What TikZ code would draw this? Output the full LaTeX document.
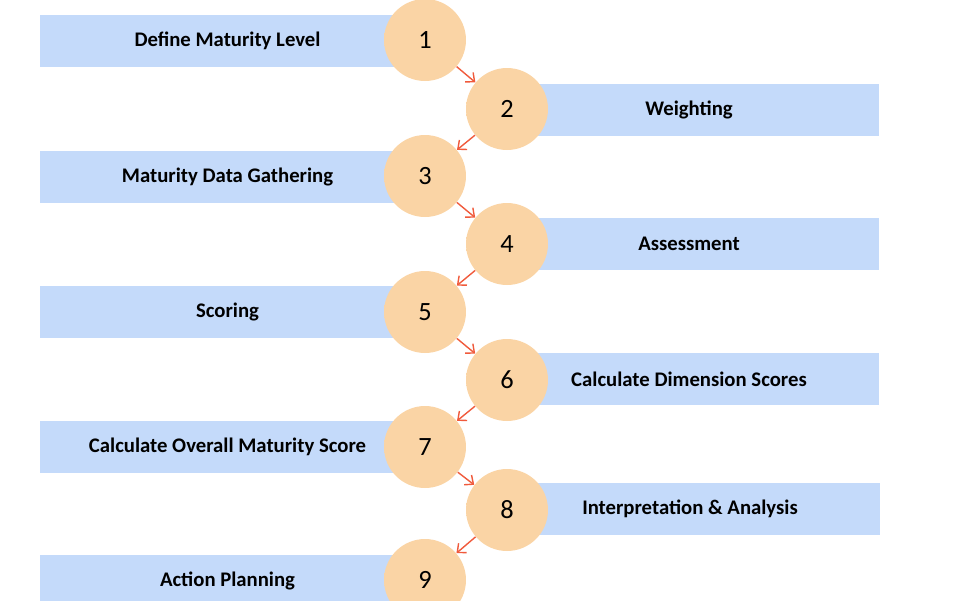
\documentclass[tikz,border=0pt]{standalone}
\usepackage{fontspec}
\setmainfont{Carlito}
\usetikzlibrary{arrows.meta}
\definecolor{barblue}{RGB}{196,218,250}
\definecolor{peach}{RGB}{250,212,165}
\definecolor{peachdark}{RGB}{160,120,80}
\definecolor{arrowred}{RGB}{240,90,60}
\pgfdeclareradialshading{stepshade}{\pgfpoint{0bp}{-6bp}}{color(0bp)=(peach); color(28bp)=(peach); color(38bp)=(peach!85!peachdark); color(46bp)=(peachdark); color(60bp)=(peachdark)}
\begin{document}
\begin{tikzpicture}
  [x=0.02cm,y=-0.02cm,
   stepbar/.style={fill=barblue,inner sep=0pt,minimum width=7.2cm,minimum height=1.04cm,font=\bfseries\fontsize{11.8}{13}\selectfont},
   stepball/.style={circle,inner sep=0pt,minimum size=1.64cm,shading=stepshade,font=\fontsize{15}{17}\selectfont},
   steparrow/.style={draw=arrowred,thick,-{Straight Barb[length=4pt,width=7pt]}}]
  \useasboundingbox (0,0) rectangle (960,600);
  \node (bar1) at (220,41) [stepbar] {\hspace*{0.3cm}Define Maturity Level};
  \node (bar2) at (699,110) [stepbar] {\hspace*{-0.4cm}Weighting};
  \node (bar3) at (220,177) [stepbar] {\hspace*{0.3cm}Maturity Data Gathering};
  \node (bar4) at (699,244) [stepbar] {\hspace*{-0.4cm}Assessment};
  \node (bar5) at (220,312) [stepbar] {\hspace*{0.3cm}Scoring};
  \node (bar6) at (699,379) [stepbar] {\hspace*{-0.4cm}Calculate Dimension Scores};
  \node (bar7) at (220,447) [stepbar] {\hspace*{0.3cm}Calculate Overall Maturity Score};
  \node (bar8) at (700,509) [stepbar] {\hspace*{-0.4cm}Interpretation \& Analysis};
  \node (bar9) at (220,581) [stepbar] {\hspace*{0.3cm}Action Planning};
  \node (ball1) at (425,40) [stepball] {1};
  \node (ball2) at (507,109) [stepball] {2};
  \node (ball3) at (425,176) [stepball] {3};
  \node (ball4) at (507,244) [stepball] {4};
  \node (ball5) at (425,312) [stepball] {5};
  \node (ball6) at (507,380) [stepball] {6};
  \node (ball7) at (425,447) [stepball] {7};
  \node (ball8) at (507,510) [stepball] {8};
  \node (ball9) at (425,580) [stepball] {9};
  \foreach \a/\b in {1/2,2/3,3/4,4/5,5/6,6/7,7/8,8/9}
    \draw [steparrow] (ball\a) -- (ball\b);
\end{tikzpicture}
\end{document}
